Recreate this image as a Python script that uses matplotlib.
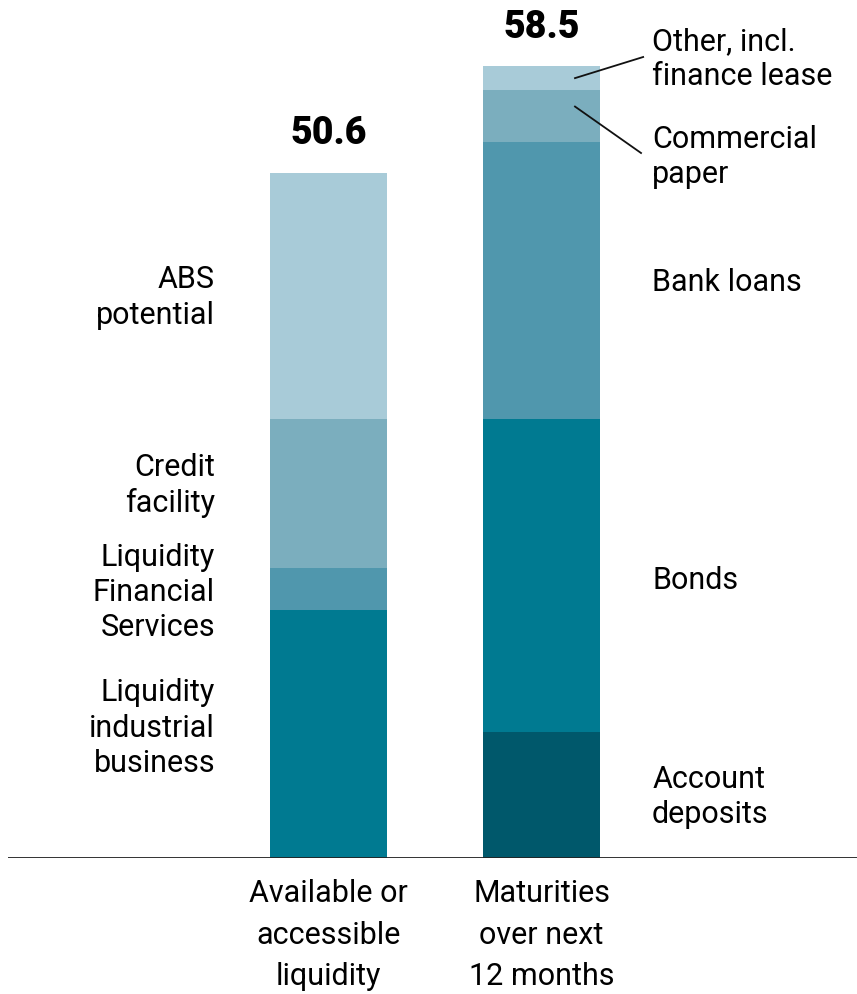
import matplotlib.pyplot as plt
import numpy as np

plt.rcParams['font.family'] = ['Roboto', 'DejaVu Sans']

categories = ['Available or\naccessible\nliquidity', 'Maturities\nover next\n12 months']

avail_labels = ['Liquidity\nindustrial\nbusiness', 'Liquidity\nFinancial\nServices', 'Credit\nfacility', 'ABS\npotential']
avail_values = [18.3, 3.1, 11.0, 18.2]
avail_colors = ['#007A91', '#5097AD', '#7BAEBE', '#A8CBD8']

mat_labels = ['Account\ndeposits', 'Bonds', 'Bank loans', 'Commercial\npaper', 'Other, incl.\nfinance lease']
mat_values = [9.3, 23.1, 20.5, 3.8, 1.8]
mat_colors = ['#00586B', '#007A91', '#5097AD', '#7BAEBE', '#A8CBD8']

totals = [50.6, 58.5]

fig = plt.figure(figsize=(8.57, 9.94), dpi=100)
ax = fig.add_axes([8 / 857, 136 / 994, 849 / 857, 858 / 994])
ax.set_xlim(-1.505, 2.481)
ax.set_ylim(0, 63.37)
ax.axis('off')
ax.axhline(0, color='#222222', lw=1.3, zorder=5)

w = 0.55
fs = 22
ls = 1.27

# nudges so the labels sit where they read best
avail_nudge = [0.45, -0.25, 0.6, -0.1]
mat_nudge = [-0.15, -0.35, -0.15]

# left bar, labels on the left side
bottom = 0
for val, col, lab, dy in zip(avail_values, avail_colors, avail_labels, avail_nudge):
    ax.bar(0, val, w, bottom=bottom, color=col, edgecolor='none')
    ax.text(-0.533, bottom + val / 2 + dy, lab, ha='right', va='center', fontsize=fs, linespacing=ls)
    bottom += val

# right bar, labels on the right side
bottom = 0
mat_mid = []
for val, col in zip(mat_values, mat_colors):
    ax.bar(1, val, w, bottom=bottom, color=col, edgecolor='none')
    mat_mid.append(bottom + val / 2)
    bottom += val

lx = 1.519
for i in range(3):
    ax.text(lx, mat_mid[i] + mat_nudge[i], mat_labels[i], ha='left', va='center', fontsize=fs, linespacing=ls)

# the two thin top segments get leader lines
ax.text(lx, 51.8, mat_labels[3], ha='left', va='center', fontsize=fs, linespacing=ls)
ax.text(lx, 59.0, mat_labels[4], ha='left', va='center', fontsize=fs, linespacing=ls)
ax.plot([1.157, 1.477], [mat_mid[4], 59.16], color='#111111', lw=1.3)
ax.plot([1.157, 1.467], [mat_mid[3] + 0.7, 52.07], color='#111111', lw=1.3)

for i, t in enumerate(totals):
    ax.text(i, t + 2.1, f'{t}', ha='center', va='baseline', fontsize=27, fontweight='black')

for i, c in enumerate(categories):
    ax.text(i, -1.55, c, ha='center', va='top', fontsize=fs, linespacing=1.55)

fig.savefig('out.png', dpi=100)
